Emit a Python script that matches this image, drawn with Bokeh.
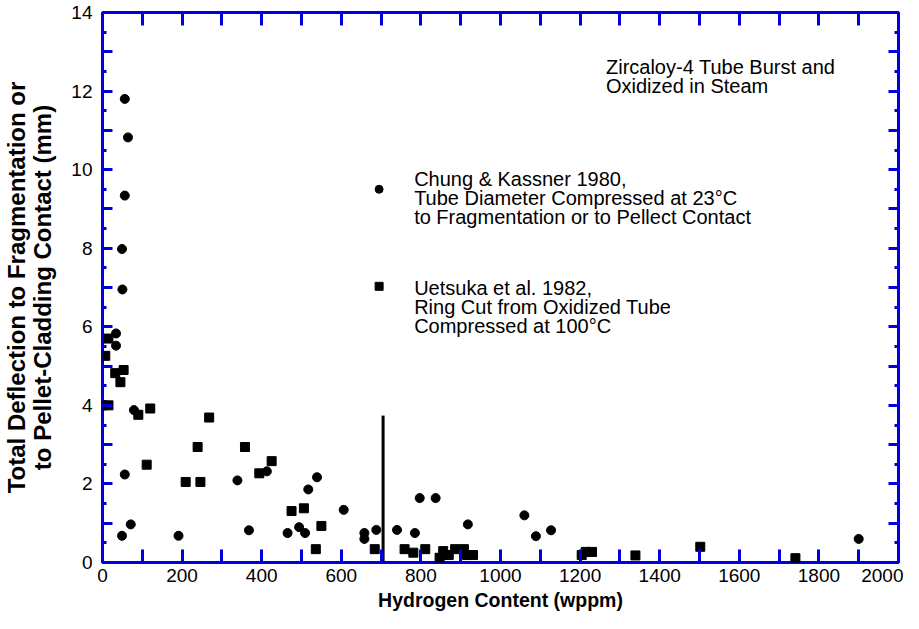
from bokeh.plotting import figure
from bokeh.models import FixedTicker, LinearAxis, CustomLabelingPolicy, Label, Range1d
from bokeh.embed import file_html
from bokeh.resources import INLINE

# Chung & Kassner 1980 (circles)
chung_h = [56, 64, 56, 49, 50, 34, 34, 79, 56, 71, 49, 191, 339, 368, 413, 465, 494, 509, 517, 539,
           606, 658, 658, 688, 740, 785, 797, 837, 918, 1060, 1089, 1127, 1900]
chung_d = [11.8, 10.82, 9.34, 7.98, 6.95, 5.83, 5.52, 3.88, 2.24, 0.97, 0.68, 0.68, 2.09, 0.82, 2.32, 0.75, 0.90, 0.75, 1.86, 2.17,
           1.34, 0.75, 0.60, 0.83, 0.83, 0.75, 1.64, 1.64, 0.97, 1.20, 0.67, 0.82, 0.60]

# Uetsuka et al. 1982 (squares)
uet_h = [15, 7, 53, 32, 45, 0, 15, 90, 120, 268, 239, 358, 425, 394, 111, 209, 246, 475, 506, 550,
         536, 684, 759, 781, 811, 847, 856, 870, 886, 908, 916, 931, 1204, 1214, 1230, 1339, 1502, 1741]
uet_d = [5.70, 5.26, 4.90, 4.82, 4.59, 4.0, 4.0, 3.76, 3.92, 3.69, 2.94, 2.94, 2.58, 2.27, 2.49, 2.05, 2.05, 1.31, 1.38, 0.93,
         0.34, 0.34, 0.34, 0.25, 0.34, 0.12, 0.29, 0.19, 0.34, 0.34, 0.19, 0.19, 0.19, 0.27, 0.27, 0.18, 0.40, 0.11]

# vertical reference line
line_h = [705]
line_top = [3.74]

# legend key marker positions
key_h = [695]
key_chung_d = [9.50]
key_uet_d = [7.03]

x_ticks = list(range(0, 2001, 100))
y_ticks = list(range(0, 15))
y_minor = [i + 0.5 for i in range(14)]

x_title = "Hydrogen Content (wppm)"
y_title = "Total Deflection to Fragmentation or\nto Pellet-Cladding Contact (mm)"
chung_text = ["Chung & Kassner 1980,", "Tube Diameter Compressed at 23\u00b0C", "to Fragmentation or to Pellect Contact"]
uet_text = ["Uetsuka et al. 1982,", "Ring Cut  from Oxidized Tube", "Compressed at 100\u00b0C"]
note_text = ["Zircaloy-4 Tube Burst and", "Oxidized in Steam"]

BLUE = "#0000DD"
FONT = "Liberation Sans"

p = figure(width=903, height=613, x_range=Range1d(0, 2000), y_range=Range1d(0, 14),
           output_backend="svg", toolbar_location=None,
           min_border_left=95, min_border_right=5, min_border_top=12, min_border_bottom=40)
p.xgrid.visible = False
p.ygrid.visible = False
p.background_fill_color = "white"
p.border_fill_color = "white"
p.outline_line_color = BLUE
p.outline_line_width = 3

every_other = "for (const i of indices) { if (i % 2 == 0) yield i }"
no_labels = "return []"

def style_x(ax, labels):
    ax.ticker = FixedTicker(ticks=x_ticks)
    ax.axis_line_color = None
    ax.major_tick_in = 13
    ax.major_tick_out = 0
    ax.major_tick_line_color = BLUE
    ax.major_tick_line_width = 3
    ax.minor_tick_line_color = None
    if labels:
        ax.major_label_policy = CustomLabelingPolicy(code=every_other)
        ax.major_label_text_font = FONT
        ax.major_label_text_font_size = "19px"
        ax.major_label_text_line_height = 1.0
        ax.major_label_text_color = "black"
        ax.major_label_standoff = 6
    else:
        ax.major_label_policy = CustomLabelingPolicy(code=no_labels)
        ax.major_label_text_font_size = "0px"
        ax.major_label_standoff = 0

def style_y(ax, labels):
    ax.ticker = FixedTicker(ticks=y_ticks, minor_ticks=y_minor)
    ax.axis_line_color = None
    ax.major_tick_in = 10
    ax.major_tick_out = 0
    ax.minor_tick_in = 4
    ax.minor_tick_out = 0
    ax.major_tick_line_color = BLUE
    ax.major_tick_line_width = 3
    ax.minor_tick_line_color = BLUE
    ax.minor_tick_line_width = 3
    if labels:
        ax.major_label_policy = CustomLabelingPolicy(code=every_other)
        ax.major_label_text_font = FONT
        ax.major_label_text_font_size = "19px"
        ax.major_label_text_color = "black"
        ax.major_label_standoff = 10
    else:
        ax.major_label_policy = CustomLabelingPolicy(code=no_labels)
        ax.major_label_text_font_size = "0px"
        ax.major_label_standoff = 0

bottom = p.below[0]
left = p.left[0]
style_x(bottom, True)
style_y(left, True)
top = LinearAxis(fixed_location=14)
style_x(top, False)
p.add_layout(top, "above")
right = LinearAxis(fixed_location=2000)
style_y(right, False)
p.add_layout(right, "right")

bottom.axis_label = x_title
bottom.axis_label_text_font = FONT
bottom.axis_label_text_font_style = "bold"
bottom.axis_label_text_font_size = "19.5px"
bottom.axis_label_text_line_height = 1.0
bottom.axis_label_text_color = "black"
bottom.axis_label_standoff = 4

left.axis_label = y_title
left.axis_label_text_font = FONT
left.axis_label_text_font_style = "bold"
left.axis_label_text_font_size = "24px"
left.axis_label_text_line_height = 0.96
left.axis_label_text_color = "black"
left.axis_label_standoff = 12

p.segment(x0=line_h, y0=[0], x1=line_h, y1=line_top, line_color="black", line_width=3)

p.scatter(x=chung_h, y=chung_d, marker="circle", size=9, fill_color="black", line_color="black")
p.scatter(x=uet_h, y=uet_d, marker="square", size=9, fill_color="black", line_color="black")

p.scatter(x=key_h, y=key_chung_d, marker="circle", size=8, fill_color="black", line_color="black")
p.scatter(x=key_h, y=key_uet_d, marker="square", size=8, fill_color="black", line_color="black")

def add_lines(lines, x, y0, step, size):
    for i, t in enumerate(lines):
        p.add_layout(Label(x=x, y=y0 - i * step, text=t, text_font=FONT, text_font_size=size,
                           text_baseline="middle", text_align="left", text_color="black"))

add_lines(chung_text, 783, 9.75, 0.48, "20px")
add_lines(uet_text, 783, 6.98, 0.48, "20px")
add_lines(note_text, 1265, 12.62, 0.50, "20px")

open("out.html", "w").write(file_html(p, INLINE))
